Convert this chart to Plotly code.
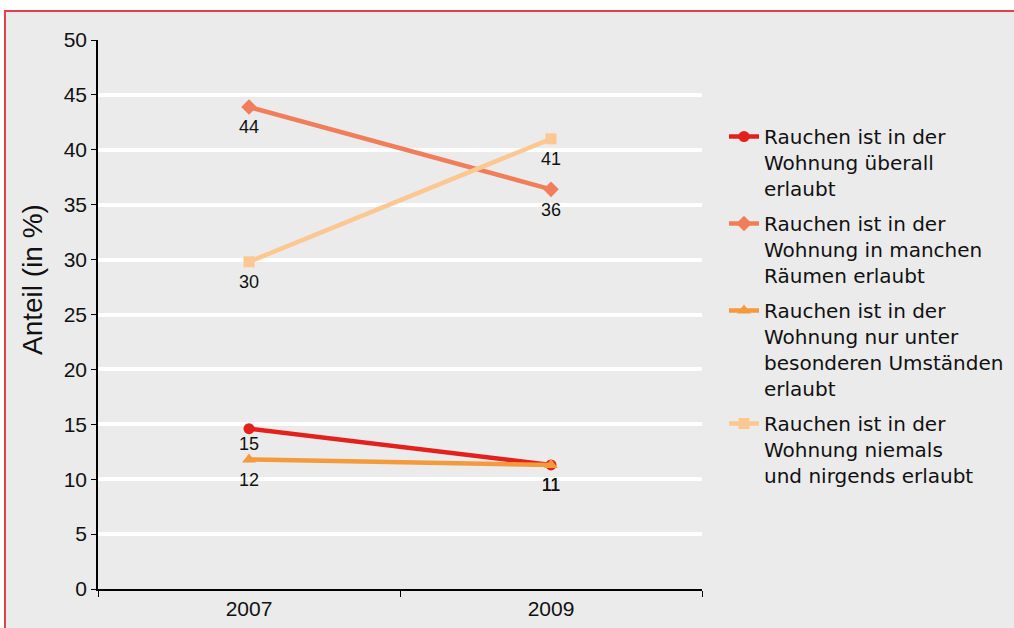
import plotly.graph_objects as go

years = ["2007", "2009"]
series_names = [
    "Rauchen ist in der<br>Wohnung überall<br>erlaubt",
    "Rauchen ist in der<br>Wohnung in manchen<br>Räumen erlaubt",
    "Rauchen ist in der<br>Wohnung nur unter<br>besonderen Umständen<br>erlaubt",
    "Rauchen ist in der<br>Wohnung niemals<br>und nirgends erlaubt",
]
ueberall = [14.6, 11.3]
manche_raeume = [43.9, 36.4]
besondere_umstaende = [11.8, 11.3]
niemals = [29.8, 41.0]
y_title = "Anteil (in %)"

colors = ["#e3201b", "#f07e5a", "#f49a3c", "#fdc792"]
symbols = ["circle", "diamond", "triangle-up", "square"]
sizes = [11, 12, 12, 11]
# invisible spacer marker sizes controlling the label offset below each point
label_offsets = [[11, 19], [19, 19], [19, 19], [19, 19]]
values = [ueberall, manche_raeume, besondere_umstaende, niemals]

TICK_FONT = "Liberation Sans, Arial, sans-serif"

fig = go.Figure()
for i, (name, vals) in enumerate(zip(series_names, values)):
    fig.add_trace(go.Scatter(
        x=years, y=vals, name=name, mode="lines+markers",
        line=dict(color=colors[i], width=4.5),
        marker=dict(symbol=symbols[i], size=sizes[i], color=colors[i]),
        legendgroup=f"g{i}", cliponaxis=False,
    ))

for i, vals in enumerate(values):
    fig.add_trace(go.Scatter(
        x=years, y=vals, mode="markers+text", showlegend=False, hoverinfo="skip",
        marker=dict(size=label_offsets[i], opacity=0),
        texttemplate="%{y:.0f}", textposition="bottom center",
        textfont=dict(family=TICK_FONT, size=18, color="#111111"),
        legendgroup=f"g{i}", cliponaxis=False,
    ))

x0 = (5 - 98) / 604
x1 = (1030 - 98) / 604
y1 = (589 - 11) / 549
y0 = (589 - 660) / 549
fig.add_shape(type="rect", xref="paper", yref="paper", x0=x0, x1=x1, y0=y0, y1=y1,
              line=dict(color="#e5404e", width=2), fillcolor="#ebebeb", layer="below")

fig.add_annotation(text=y_title, xref="paper", yref="paper",
                   x=(32 - 98) / 604, y=(589 - 280) / 549,
                   xanchor="center", yanchor="middle", textangle=-90, showarrow=False,
                   font=dict(size=28, family=TICK_FONT, color="#111111"))

fig.update_layout(
    width=1014, height=628,
    margin=dict(l=98, r=312, t=40, b=39, autoexpand=False),
    paper_bgcolor="white", plot_bgcolor="#ebebeb",
    font=dict(family=TICK_FONT, color="#111111"),
    showlegend=True,
    legend=dict(xref="container", yref="container", x=724 / 1014, xanchor="left",
                y=1 - 117 / 628, yanchor="top", maxheight=560,
                font=dict(family="DejaVu Sans, sans-serif", size=20, color="#111111"),
                bgcolor="rgba(0,0,0,0)", valign="top", tracegroupgap=6,
                itemwidth=30),
    xaxis=dict(type="category", range=[-0.5, 1.5], showgrid=False, automargin=False,
               showline=True, linecolor="black", linewidth=1.5,
               ticks="outside", tickson="boundaries", ticklen=6, tickcolor="black",
               tickfont=dict(size=21, family=TICK_FONT, color="#111111")),
    yaxis=dict(range=[0, 50], dtick=5, showgrid=True, gridcolor="white", gridwidth=4,
               zeroline=False, showline=True, linecolor="black", linewidth=1.5,
               ticks="outside", ticklen=5, tickcolor="black", automargin=False,
               tickfont=dict(size=21, family=TICK_FONT, color="#111111")),
)

fig.write_html("out.html", config={"displayModeBar": False},
               post_script="document.body.style.margin='0';")
